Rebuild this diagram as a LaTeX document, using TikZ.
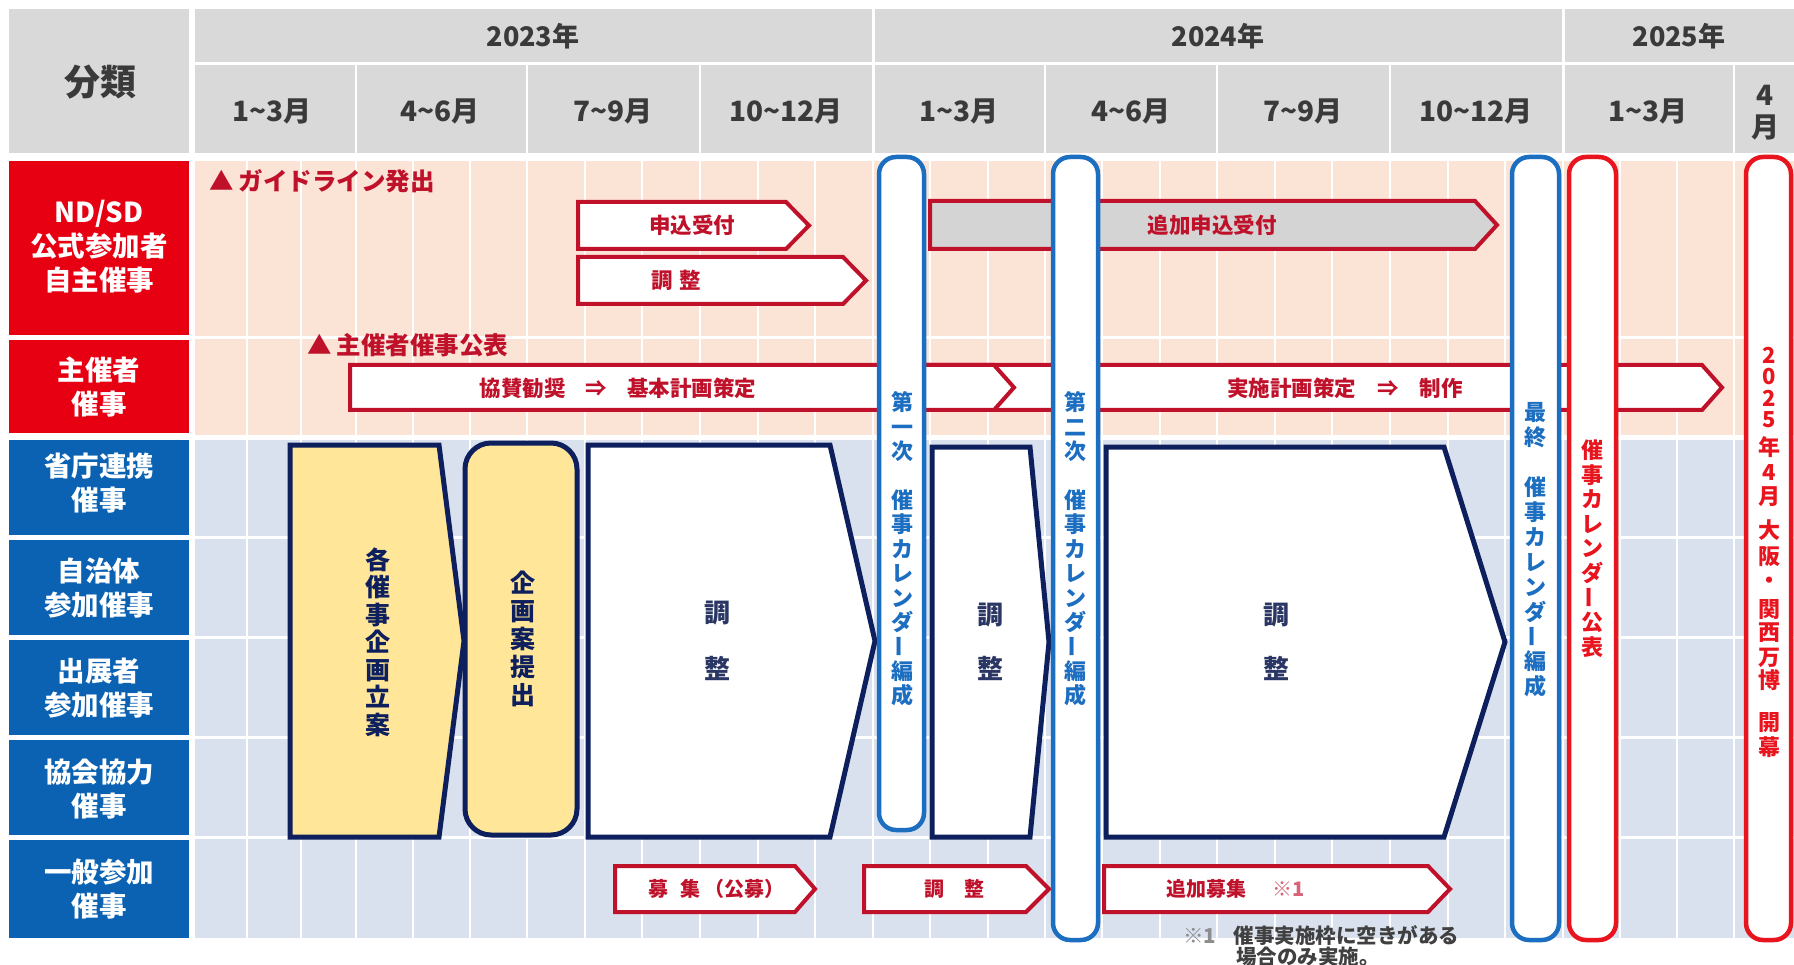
\documentclass[tikz,border=0pt]{standalone}
\usepackage{fontspec}
\usepackage{graphicx}
\setmainfont{Noto Sans CJK JP}
\definecolor{hdr}{HTML}{D9D9D9}
\definecolor{hdrtxt}{HTML}{3A3A3A}
\definecolor{pinkbg}{HTML}{FBE4D6}
\definecolor{bluebg}{HTML}{DAE1EE}
\definecolor{catred}{HTML}{E60012}
\definecolor{catblue}{HTML}{0B62B3}
\definecolor{arred}{HTML}{C0112B}
\definecolor{navy}{HTML}{0D1F5C}
\definecolor{yel}{HTML}{FFE699}
\definecolor{barblue}{HTML}{1C6EC1}
\definecolor{barred}{HTML}{E8141E}
\definecolor{adjtxt}{HTML}{2A3663}
\definecolor{greyfill}{HTML}{D4D4D4}
\definecolor{notetxt}{HTML}{404040}
\newcommand\vbar{\raisebox{-0.12em}[0.88em][0.12em]{\rotatebox{90}{ー}}}
\newcommand\tld{\char"007E\relax}
\begin{document}
\begin{tikzpicture}[x=1pt,y=-1pt,
  every node/.style={inner sep=0pt,outer sep=0pt},
  hdrtext/.style={text=hdrtxt,font=\bfseries\fontsize{26}{30}\selectfont},
  mtext/.style={text=hdrtxt,font=\bfseries\fontsize{28}{30}\selectfont},
  cell/.style={minimum width=180pt,minimum height=#1,draw=none},
  redcell/.style={cell=#1,fill=catred},
  bluecell/.style={cell=#1,fill=catblue},
  cattext/.style={text=white,align=center,font=\bfseries\fontsize{27.5}{34}\selectfont},
  tritext/.style={text=arred,anchor=west,font=\bfseries\fontsize{24.5}{26}\selectfont},
  redarrow/.style={draw=arred,line width=4pt,fill=white,line join=miter},
  artext/.style={text=arred,font=\bfseries\fontsize{21.5}{24}\selectfont},
  lowtext/.style={text=arred,font=\bfseries\fontsize{20}{22}\selectfont},
  navyshape/.style={draw=navy,line width=5pt,line join=miter},
  adjtext/.style={text=adjtxt,font=\bfseries\fontsize{26}{28}\selectfont},
  yeltext/.style={text=navy,align=center,font=\bfseries\fontsize{25}{27.5}\selectfont},
  vtext/.style={align=center,font=\bfseries\fontsize{22}{24.4}\selectfont},
  bluebar/.style={draw=barblue,line width=4.5pt,fill=white,rounded corners=17pt},
  redbar/.style={draw=barred,line width=4.5pt,fill=white,rounded corners=17pt},
  gridline/.style={white,line width=2pt},
  notetext/.style={text=notetxt,anchor=west,font=\bfseries\fontsize{20.5}{22}\selectfont}
]
\useasboundingbox (0,0) rectangle (1794,965);
\fill[white] (0,0) rectangle (1794,965);

% ---------- header ----------
\node[cell=144pt,fill=hdr,anchor=north west] (hcat) at (9,9) {};
\node[hdrtext,font=\bfseries\fontsize{36}{38}\selectfont] (bunrui) at (100,82) {分類};
\fill[hdr] (195,9) rectangle (1794,153);
\draw[white,line width=3pt] (195,63.5) -- (1794,63.5);
\foreach \x in {873,1563} \draw[white,line width=3pt] (\x,9) -- (\x,153);
\foreach \x in {356,527,700,1045,1217,1390,1734} \draw[white,line width=2.5pt] (\x,63) -- (\x,153);
\node[hdrtext,font=\bfseries\fontsize{27}{30}\selectfont] (y2023) at (533,36) {2023年};
\node[hdrtext,font=\bfseries\fontsize{27}{30}\selectfont] (y2024) at (1218,36) {2024年};
\node[hdrtext,font=\bfseries\fontsize{27}{30}\selectfont] (y2025) at (1679,36) {2025年};
\node[mtext] (m1) at (272,111) {1\tld3月};
\node[mtext] (m2) at (440,111) {4\tld6月};
\node[mtext] (m3) at (613,111) {7\tld9月};
\node[mtext] (m4) at (786,111) {10\tld12月};
\node[mtext] (m5) at (959,111) {1\tld3月};
\node[mtext] (m6) at (1131,111) {4\tld6月};
\node[mtext] (m7) at (1303,111) {7\tld9月};
\node[mtext] (m8) at (1476,111) {10\tld12月};
\node[mtext] (m9) at (1648,111) {1\tld3月};
\node[mtext] (m10a) at (1765,95) {4};
\node[mtext] (m10b) at (1765,127) {月};

% ---------- body backgrounds ----------
\fill[pinkbg] (195,161) rectangle (1794,435);
\fill[bluebg] (195,440) rectangle (1794,938);
\foreach \x in {247,301,356,413,470,527,585,642,700,758,815,873,930,988,1045,1102,1160,1217,1275,1332,1390,1448,1505,1563,1620,1677,1734} {
  \draw[gridline] (\x,161) -- (\x,435);
  \draw[gridline] (\x,440) -- (\x,938);
}
\draw[white,line width=3pt] (195,337.5) -- (1794,337.5);
\foreach \y in {537.5,637.5,737.5,837.5} \draw[white,line width=3pt] (195,\y) -- (1794,\y);

% ---------- category cells ----------
\node[redcell=174pt] (cnd) at (99,248) {};
\node[redcell=93pt] (csh) at (99,386.5) {};
\node[bluecell=95pt] (csc) at (99,487.5) {};
\node[bluecell=95pt] (cjt) at (99,587.5) {};
\node[bluecell=95pt] (cst) at (99,687.5) {};
\node[bluecell=95pt] (ckk) at (99,787.5) {};
\node[bluecell=98pt] (cip) at (99,889) {};
\node[cattext] (lnd) at (99,247) {ND/SD\\公式参加者\\自主催事};
\node[cattext] (lsh) at (99,387) {主催者\\催事};
\node[cattext] (lsc) at (99,483) {省庁連携\\催事};
\node[cattext] (ljt) at (99,588) {自治体\\参加催事};
\node[cattext] (lst) at (99,688) {出展者\\参加催事};
\node[cattext] (lkk) at (99,789) {協会協力\\催事};
\node[cattext] (lip) at (99,889) {一般参加\\催事};

% ---------- ND/SD row ----------
\node[tritext] (guide) at (209,181) {▲\hspace{5pt}ガイドライン発出};
\draw[redarrow] (578,202) -- (786,202) -- (809,225.5) -- (786,249) -- (578,249) -- cycle;
\node[artext] (moushi) at (692,225.5) {申込受付};
\draw[redarrow] (578,257) -- (843,257) -- (866,280.5) -- (843,304) -- (578,304) -- cycle;
\node[artext] (chosei0) at (676,280.5) {調\hspace{6pt}整};
\draw[redarrow,fill=greyfill] (930,201) -- (1475,201) -- (1497,225) -- (1475,249) -- (930,249) -- cycle;
\node[artext] (tsuika) at (1212,225) {追加申込受付};

% ---------- organiser row ----------
\node[tritext] (koubyou) at (307,345) {▲\hspace{5pt}主催者催事公表};
\draw[redarrow] (900,365) -- (1702,365) -- (1722,387.5) -- (1702,410) -- (900,410) -- cycle;
\node[artext] (jisshi) at (1345,388) {実施計画策定\hspace{21pt}⇒\hspace{21pt}制作};
\draw[redarrow] (350,365) -- (994,365) -- (1014,387.5) -- (994,410) -- (350,410) -- cycle;
\node[artext] (kyousan) at (618,388) {協賛勧奨\hspace{20pt}⇒\hspace{20pt}基本計画策定};

% ---------- main process shapes ----------
\draw[navyshape,fill=yel] (290,445) -- (439,445) -- (464,641) -- (439,837) -- (290,837) -- cycle;
\node[yeltext] (kikaku) at (378,642) {各\\催\\事\\企\\画\\立\\案};
\draw[navyshape,fill=yel,rounded corners=26pt] (465,443) rectangle (577,835);
\node[yeltext,font=\bfseries\fontsize{25}{28}\selectfont] (teishutsu) at (523,639) {企\\画\\案\\提\\出};
\draw[navyshape,fill=white] (588,445) -- (830,445) -- (875,641) -- (830,837) -- (588,837) -- cycle;
\node[adjtext] (c1a) at (717,613) {調};
\node[adjtext] (c1b) at (717,668) {整};
\draw[navyshape,fill=white] (932,447) -- (1030,447) -- (1049,642) -- (1030,837) -- (932,837) -- cycle;
\node[adjtext] (c2a) at (990,615) {調};
\node[adjtext] (c2b) at (990,668) {整};
\draw[navyshape,fill=white] (1106,447) -- (1444,447) -- (1505,642) -- (1444,837) -- (1106,837) -- cycle;
\node[adjtext] (c3a) at (1276,615) {調};
\node[adjtext] (c3b) at (1276,668) {整};

% ---------- general participation row ----------
\draw[redarrow] (615,866) -- (795,866) -- (815,889) -- (795,912) -- (615,912) -- cycle;
\node[lowtext] (boshu) at (716,889) {募\hspace{12pt}集\hspace{4pt}（公募）};
\draw[redarrow] (864,866) -- (1026,866) -- (1049,889) -- (1026,912) -- (864,912) -- cycle;
\node[lowtext] (chosei4) at (954,889) {調\hspace{20pt}整};
\draw[redarrow] (1104,866) -- (1428,866) -- (1450,889) -- (1428,912) -- (1104,912) -- cycle;
\node[lowtext] (tsuikabo) at (1236,889) {追加募集\hspace{26pt}{\color{arred!65}※1}};
\node[notetext] (note1) at (1183,936) {{\color{notetxt!60}※1}\hspace{18pt}催事実施枠に空きがある};
\node[notetext] (note2) at (1236,957) {場合のみ実施。};

% ---------- milestone bars ----------
\draw[bluebar] (879,157) rectangle (924,830);
\node[vtext,text=barblue] (b1) at (902,549) {第\\一\\次\\[24.4pt]催\\事\\カ\\レ\\ン\\ダ\\\vbar\\編\\成};
\draw[bluebar] (1053,157) rectangle (1098,940);
\node[vtext,text=barblue] (b2) at (1075,549) {第\\二\\次\\[24.4pt]催\\事\\カ\\レ\\ン\\ダ\\\vbar\\編\\成};
\draw[bluebar] (1512,157) rectangle (1559,940);
\node[vtext,text=barblue,font=\bfseries\fontsize{22}{24.9}\selectfont] (b3) at (1535,550) {最\\終\\[24.9pt]催\\事\\カ\\レ\\ン\\ダ\\\vbar\\編\\成};
\draw[redbar] (1569,157) rectangle (1616,940);
\node[vtext,text=barred,font=\bfseries\fontsize{22}{24.6}\selectfont] (r1) at (1592,548.5) {催\\事\\カ\\レ\\ン\\ダ\\\vbar\\公\\表};
\draw[redbar] (1746,157) rectangle (1791,940);
\foreach \ch/\yy [count=\i] in {2/355,0/377,2/398,5/420,年/447,4/473,月/497,大/530,阪/557,・/583,関/610,西/633,万/658,博/680,開/723,幕/747}
  \node[vtext,text=barred] (r2-\i) at (1769,\yy) {\ch};
\end{tikzpicture}
\end{document}
